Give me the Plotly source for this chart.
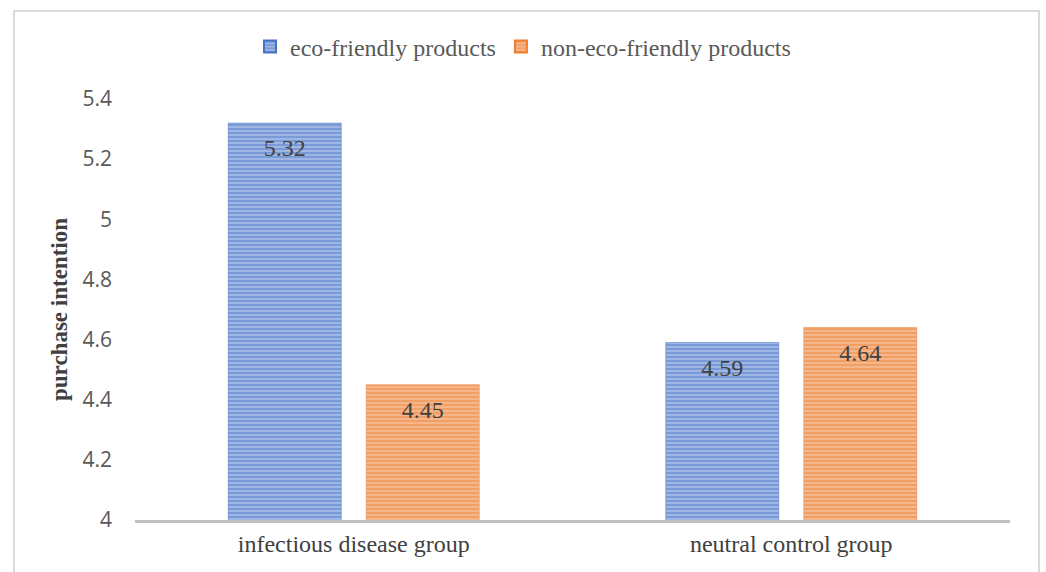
import plotly.graph_objects as go

groups = ["infectious disease group", "neutral control group"]
series_names = ["eco-friendly products", "non-eco-friendly products"]
eco_values = [5.32, 4.59]
non_eco_values = [4.45, 4.64]
y_ticks = [4, 4.2, 4.4, 4.6, 4.8, 5, 5.2, 5.4]
y_tick_labels = ["4", "4.2", "4.4", "4.6", "4.8", "5", "5.2", "5.4"]

W, H = 1046, 572
L, R, T, B = 135, 36, 99, 52

fig = go.Figure()
styles = [("#AFC3E8", "#4472C4"), ("#F6C09B", "#ED7D31")]
for name, vals, (bg, fg) in zip(series_names, [eco_values, non_eco_values], styles):
    fig.add_trace(go.Bar(
        x=groups, y=vals, name=name,
        text=[f"\u00a0<br><span style='font-size:24px'>{v:.2f}</span>" for v in vals],
        textposition="inside", insidetextanchor="end",
        textangle=0, constraintext="none",
        textfont=dict(family="Liberation Serif", size=14, color="#404040"),
        marker=dict(color=bg, line=dict(color=fg, width=0.5),
                    pattern=dict(shape="-", fgcolor=fg, bgcolor=bg, size=4,
                                 solidity=0.65, fillmode="overlay")),
        cliponaxis=False,
    ))

pw = W - L - R
ph = H - T - B
fig.add_shape(type="rect", xref="paper", yref="paper",
              x0=(14 - L) / pw, x1=(1039 - L) / pw,
              y0=(H - B - 585) / ph, y1=(H - B - 11) / ph,
              line=dict(color="#D9D9D9", width=2), layer="below")

fig.update_layout(
    width=W, height=H,
    margin=dict(l=L, r=R, t=T, b=B, autoexpand=False),
    paper_bgcolor="white", plot_bgcolor="white",
    barmode="group", bargap=0.369, bargroupgap=0.181,
    legend=dict(orientation="h", x=0.5, xanchor="center", xref="container",
                y=(H - 47) / H, yanchor="middle", yref="container",
                font=dict(family="Liberation Serif", size=24, color="#595959"),
                itemwidth=30, itemsizing="constant", traceorder="normal"),
    showlegend=True,
)
fig.update_xaxes(showline=True, linecolor="#BFBFBF", linewidth=3,
                 showgrid=False, ticks="",
                 tickfont=dict(family="Liberation Serif", size=24, color="#404040"))
fig.update_yaxes(range=[4, 5.4], tickvals=y_ticks, ticktext=y_tick_labels,
                 showgrid=False, showline=False, zeroline=False, ticks="",
                 ticklabelstandoff=22,
                 tickfont=dict(family="Open Sans", size=21, color="#595959"),
                 title=dict(text="<b>purchase intention</b>", standoff=8,
                            font=dict(family="Liberation Serif", size=23, color="#404040")))

fig.write_html("out.html")
